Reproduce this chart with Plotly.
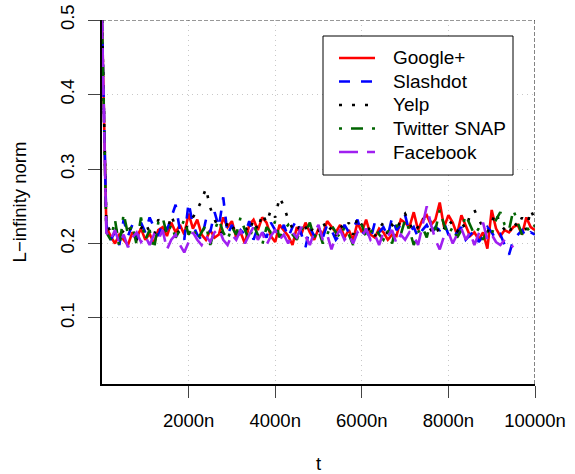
import plotly.graph_objects as go

# ---------------- data ----------------
T = list(range(0, 10001, 100))  # t in units of n
T_FB = list(range(0, 9501, 100))

google = [0.5, 0.222, 0.210, 0.200, 0.212, 0.205, 0.198, 0.215, 0.208, 0.220,
          0.205, 0.213, 0.200, 0.218, 0.222, 0.210, 0.228, 0.215, 0.225, 0.212,
          0.240, 0.220, 0.232, 0.212, 0.205, 0.218, 0.208, 0.212, 0.235, 0.222,
          0.230, 0.208, 0.215, 0.200, 0.225, 0.232, 0.218, 0.235, 0.228, 0.210,
          0.202, 0.225, 0.218, 0.210, 0.198, 0.222, 0.212, 0.228, 0.215, 0.205,
          0.220, 0.212, 0.230, 0.222, 0.215, 0.225, 0.208, 0.218, 0.205, 0.228,
          0.215, 0.232, 0.212, 0.208, 0.220, 0.215, 0.205, 0.212, 0.210, 0.232,
          0.228, 0.222, 0.242, 0.218, 0.232, 0.238, 0.225, 0.232, 0.255, 0.222,
          0.238, 0.228, 0.212, 0.238, 0.225, 0.210, 0.215, 0.205, 0.215, 0.193,
          0.245, 0.220, 0.210, 0.218, 0.215, 0.222, 0.225, 0.212, 0.235, 0.222,
          0.218]

slashdot = [0.5, 0.225, 0.205, 0.215, 0.198, 0.232, 0.210, 0.225, 0.205, 0.228,
            0.215, 0.235, 0.222, 0.210, 0.228, 0.218, 0.235, 0.252, 0.218, 0.205,
            0.255, 0.225, 0.212, 0.205, 0.232, 0.215, 0.242, 0.222, 0.262, 0.212,
            0.225, 0.208, 0.218, 0.212, 0.230, 0.205, 0.222, 0.215, 0.208, 0.228,
            0.218, 0.212, 0.225, 0.208, 0.222, 0.232, 0.212, 0.195, 0.222, 0.210,
            0.215, 0.208, 0.225, 0.218, 0.205, 0.212, 0.225, 0.215, 0.220, 0.232,
            0.212, 0.218, 0.205, 0.228, 0.215, 0.222, 0.210, 0.235, 0.218, 0.225,
            0.238, 0.215, 0.222, 0.208, 0.218, 0.225, 0.212, 0.222, 0.218, 0.228,
            0.212, 0.205, 0.215, 0.222, 0.205, 0.212, 0.218, 0.202, 0.210, 0.222,
            0.215, 0.205, 0.212, 0.198, 0.185, 0.205, 0.212, 0.218, 0.208, 0.215,
            0.212]

yelp = [0.5, 0.228, 0.215, 0.222, 0.210, 0.218, 0.225, 0.212, 0.205, 0.220,
        0.228, 0.215, 0.210, 0.232, 0.225, 0.215, 0.238, 0.222, 0.212, 0.218,
        0.225, 0.235, 0.245, 0.258, 0.274, 0.248, 0.232, 0.220, 0.212, 0.228,
        0.218, 0.225, 0.212, 0.222, 0.215, 0.232, 0.218, 0.240, 0.228, 0.245,
        0.235, 0.262, 0.250, 0.232, 0.220, 0.215, 0.228, 0.222, 0.212, 0.225,
        0.218, 0.230, 0.215, 0.222, 0.210, 0.225, 0.218, 0.228, 0.212, 0.235,
        0.225, 0.215, 0.222, 0.210, 0.220, 0.228, 0.212, 0.225, 0.218, 0.232,
        0.240, 0.228, 0.215, 0.222, 0.235, 0.228, 0.218, 0.225, 0.212, 0.220,
        0.232, 0.225, 0.215, 0.228, 0.220, 0.238, 0.245, 0.232, 0.222, 0.215,
        0.228, 0.242, 0.225, 0.218, 0.212, 0.230, 0.222, 0.235, 0.218, 0.245,
        0.232]

twitter = [0.5, 0.215, 0.205, 0.232, 0.195, 0.240, 0.212, 0.225, 0.198, 0.235,
           0.205, 0.218, 0.192, 0.228, 0.235, 0.212, 0.225, 0.208, 0.218, 0.232,
           0.212, 0.222, 0.205, 0.215, 0.225, 0.198, 0.218, 0.232, 0.215, 0.205,
           0.222, 0.212, 0.235, 0.218, 0.205, 0.225, 0.212, 0.198, 0.222, 0.215,
           0.230, 0.208, 0.218, 0.225, 0.212, 0.205, 0.222, 0.215, 0.228, 0.208,
           0.218, 0.200, 0.212, 0.225, 0.215, 0.208, 0.222, 0.212, 0.198, 0.218,
           0.225, 0.208, 0.215, 0.222, 0.212, 0.205, 0.218, 0.200, 0.225, 0.212,
           0.232, 0.218, 0.198, 0.215, 0.222, 0.208, 0.232, 0.218, 0.245, 0.225,
           0.212, 0.222, 0.208, 0.218, 0.238, 0.225, 0.212, 0.220, 0.205, 0.218,
           0.212, 0.232, 0.242, 0.225, 0.218, 0.245, 0.228, 0.212, 0.222, 0.215,
           0.225]

facebook = [0.5, 0.215, 0.205, 0.218, 0.200, 0.212, 0.195, 0.208, 0.215, 0.202,
            0.210, 0.198, 0.212, 0.205, 0.218, 0.192, 0.205, 0.212, 0.198, 0.188,
            0.202, 0.215, 0.205, 0.198, 0.210, 0.202, 0.215, 0.220, 0.205, 0.198,
            0.212, 0.205, 0.218, 0.200, 0.212, 0.222, 0.205, 0.215, 0.198, 0.210,
            0.218, 0.205, 0.212, 0.200, 0.215, 0.208, 0.222, 0.210, 0.198, 0.215,
            0.225, 0.205, 0.212, 0.192, 0.210, 0.218, 0.205, 0.212, 0.200, 0.215,
            0.208, 0.220, 0.205, 0.212, 0.198, 0.215, 0.210, 0.218, 0.200, 0.212,
            0.205, 0.215, 0.210, 0.198, 0.222, 0.250, 0.225, 0.205, 0.192, 0.210,
            0.215, 0.200, 0.212, 0.220, 0.205, 0.215, 0.198, 0.212, 0.228, 0.205,
            0.212, 0.202, 0.198, 0.205, 0.200, 0.195]

series_names = ["Google+", "Slashdot", "Yelp", "Twitter SNAP", "Facebook"]
x_tick_vals = [2000, 4000, 6000, 8000, 10000]
x_tick_text = ["2000n", "4000n", "6000n", "8000n", "10000n"]
y_tick_vals = [0.1, 0.2, 0.3, 0.4, 0.5]
y_tick_text = ["0.1", "0.2", "0.3", "0.4", "0.5"]

# ---------------- styles ----------------
styles = [
    dict(color="#FF0000", dash="solid"),
    dict(color="#0000FF", dash="11px,11px"),
    dict(color="#000000", dash="3px,10px"),
    dict(color="#006400", dash="3px,9px,12px,9px"),
    dict(color="#A020F0", dash="19px,9px"),
]
xs = [T, T, T, T, T_FB]
ys = [google, slashdot, yelp, twitter, facebook]

FONT = "Liberation Sans, Arial, Helvetica, sans-serif"
W, H = 575, 474
ML, MR, MT, MB = 102, 40, 20, 90
PW, PH = W - ML - MR, H - MT - MB


def px_x(p):
    return (p - ML) / PW


def px_y(p):
    return (H - MB - p) / PH


fig = go.Figure()
for name, x, y, st in zip(series_names, xs, ys, styles):
    fig.add_trace(go.Scatter(x=x, y=y, mode="lines", name=name, showlegend=False,
                             line=dict(color=st["color"], dash=st["dash"], width=2.6)))

# plot-area decorations (top / right dashed frame)
fig.add_shape(type="line", xref="x", yref="y", x0=0, x1=10000, y0=0.5, y1=0.5,
              line=dict(color="#333333", width=1.2, dash="4px,2px"), layer="above")
fig.add_shape(type="line", xref="x", yref="y", x0=10000, x1=10000, y0=0.0114, y1=0.5,
              line=dict(color="#333333", width=1.2, dash="4px,2px"), layer="above")

# legend box
fig.add_shape(type="rect", xref="paper", yref="paper",
              x0=px_x(323), x1=px_x(513), y0=px_y(175), y1=px_y(36),
              line=dict(color="black", width=1), fillcolor="white", layer="above")
for i, (name, st) in enumerate(zip(series_names, styles)):
    yy = 58 + i * 23.5
    fig.add_shape(type="line", xref="paper", yref="paper",
                  x0=px_x(339), x1=px_x(375), y0=px_y(yy), y1=px_y(yy),
                  line=dict(color=st["color"], dash=st["dash"], width=2.6),
                  layer="above")
    fig.add_annotation(xref="paper", yref="paper", x=px_x(391), y=px_y(yy),
                       text=name, showarrow=False, xanchor="left", yanchor="middle",
                       font=dict(family=FONT, size=19, color="black"))

fig.update_layout(
    width=W, height=H,
    margin=dict(l=ML, r=MR, t=MT, b=MB, autoexpand=False),
    paper_bgcolor="white", plot_bgcolor="white",
    font=dict(family=FONT, size=18.5, color="black"),
    showlegend=False,
    xaxis=dict(range=[0, 10000], tickmode="array", tickvals=x_tick_vals,
               ticktext=x_tick_text, ticks="outside", ticklen=12, tickwidth=1.2,
               tickcolor="#444444", showline=True, linecolor="black", linewidth=1.5,
               showgrid=True, gridcolor="#c8c8c8", griddash="1px,4px", gridwidth=1,
               zeroline=False, tickfont=dict(size=18.5), automargin=False,
               ticklabelstandoff=7,
               title=dict(text="t", standoff=30, font=dict(size=18.5))),
    yaxis=dict(range=[0.0114, 0.5], tickmode="array", tickvals=y_tick_vals,
               ticktext=y_tick_text, tickangle=-90, ticks="outside", ticklen=12,
               tickwidth=1.2, tickcolor="#444444", showline=True, linecolor="black",
               linewidth=1.5, showgrid=True, gridcolor="#c8c8c8", griddash="1px,4px",
               gridwidth=1, zeroline=False, tickfont=dict(size=18.5),
               ticklabelstandoff=7, automargin=False,
               title=dict(text="L−infinity norm", standoff=25, font=dict(size=18.5))),
)

fig.write_html(
    "out.html",
    config={"displayModeBar": False},
    post_script="document.body.style.margin='0';document.body.style.overflow='hidden';",
)
